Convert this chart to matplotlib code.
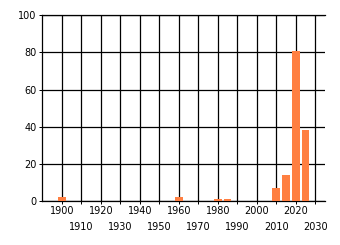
import matplotlib
matplotlib.use("Agg")
import matplotlib.pyplot as plt

# bar centres (year) and counts
years = [1900, 1960, 1980, 1985, 2010, 2015, 2020, 2025]
counts = [2, 2, 1, 1, 7, 14, 81, 38]

major_years = list(range(1900, 2031, 20))
minor_years = list(range(1910, 2031, 20))
y_ticks = [0, 20, 40, 60, 80, 100]

BAR_COLOR = "#ff7f41"

plt.rcParams["font.family"] = "DejaVu Sans"
plt.rcParams["font.size"] = 7.0

fig = plt.figure(figsize=(3.4, 2.45), dpi=100)
ax = fig.add_axes([0.1244, 0.1796, 0.956 - 0.1244, 0.9376 - 0.1796])

ax.bar(years, counts, width=4, color=BAR_COLOR, zorder=3)

ax.set_xlim(1890, 2035)
ax.set_ylim(0, 100)

ax.set_xticks(major_years)
ax.set_xticklabels([str(y) for y in major_years])
ax.set_xticks(minor_years, minor=True)
ax.set_xticklabels([str(y) for y in minor_years], minor=True)
ax.set_yticks(y_ticks)

ax.tick_params(axis="x", which="major", length=2.2, width=0.72, pad=1.4)
ax.tick_params(axis="x", which="minor", length=2.2, width=0.72, pad=12.8)
ax.tick_params(axis="y", length=2.2, width=0.72, pad=2.0)

ax.set_axisbelow(True)
ax.grid(True, which="both", axis="x", color="black", linewidth=0.9)
ax.grid(True, which="major", axis="y", color="black", linewidth=0.9)

for side in ("left", "bottom", "top"):
    ax.spines[side].set_linewidth(0.9)
ax.spines["right"].set_visible(False)

fig.savefig("out.png", dpi=100)
